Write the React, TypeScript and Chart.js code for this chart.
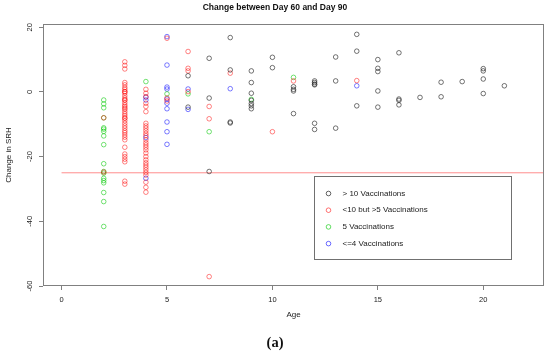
import React, { useEffect, useRef } from "react";
import { Chart, registerables } from "chart.js";

Chart.register(...registerables);

const chartTitle = "Change between Day 60 and Day 90";
const xAxisTitle = "Age";
const yAxisTitle = "Change in SRH";
const caption = "(a)";
const xTicks = [0, 5, 10, 15, 20];
const yTicks = [-60, -40, -20, 0, 20];
const xRange = [-0.88, 22.88];
const yRange = [-60, 21.0];
const thresholdValue = -25;

const seriesLabels = [
  "> 10 Vaccinations",
  "<10 but >5 Vaccinations",
  "5 Vaccinations",
  "<=4 Vaccinations",
];
const seriesColors = [
  "rgba(40,40,40,0.72)",
  "rgba(255,0,0,0.55)",
  "rgba(0,200,0,0.62)",
  "rgba(0,0,255,0.58)",
];

// [age, changes at that age]
const moreThan10: [number, number[]][] = [
  [6, [5.0, -4.7]],
  [7, [10.4, -1.9, -24.6]],
  [8, [16.8, 6.8, -9.3, -9.6]],
  [9, [6.5, 2.9, -0.4, -2.6, -3.6, -4.3, -5.2]],
  [10, [10.7, 7.5]],
  [11, [1.6, 0.8, 0.3, -6.7]],
  [12, [3.4, 2.9, 2.4, 2.2, -9.7, -11.6]],
  [13, [10.8, 3.4, -11.2]],
  [14, [17.8, 12.6, -4.3]],
  [15, [10.0, 7.3, 6.3, 0.3, -4.7]],
  [16, [12.1, -2.2, -2.6, -4.0]],
  [17, [-1.7]],
  [18, [3.0, -1.5]],
  [19, [3.2]],
  [20, [7.2, 6.5, 4.0, -0.5]],
  [21, [1.9]],
];

const between5and10: [number, number[]][] = [
  [2, [-8.0, -24.8]],
  [3, [9.3, 8.2, 7.1, 2.9, 2.2, 1.4, 0.8, 0.1, 0.1, -0.4, -1.2, -1.9, -2.5, -2.5, -3.3, -4.0, -4.5, -5.0, -5.4, -6.1, -6.8, -7.4, -8.1, -8.1, -8.9, -9.7, -10.5, -11.2, -12.0, -12.6, -13.3, -14.0, -14.8, -17.1, -19.2, -20.0, -20.8, -21.6, -27.6, -28.5]],
  [4, [0.8, -0.4, -1.5, -3.5, -4.5, -6.1, -9.7, -10.5, -11.2, -12.0, -12.8, -13.5, -14.8, -15.7, -16.4, -17.1, -17.9, -18.9, -20.0, -21.0, -21.9, -22.6, -23.3, -24.1, -24.9, -25.7, -27.9, -29.5, -31.0]],
  [5, [16.6, -1.9, -2.8]],
  [6, [12.5, 7.3, 6.5, 0.1]],
  [7, [-4.5, -8.3, -57.1]],
  [8, [5.8]],
  [10, [-12.3]],
  [11, [3.4]],
  [14, [3.5]],
];

const exactly5: [number, number[]][] = [
  [2, [-2.5, -3.7, -4.9, -8.0, -11.1, -11.5, -12.2, -13.6, -16.3, -22.2, -24.6, -25.1, -26.7, -27.4, -28.1, -31.1, -33.9, -41.6]],
  [4, [3.2]],
  [5, [-0.6]],
  [6, [-0.6]],
  [7, [-12.3]],
  [9, [-2.3]],
  [11, [4.5]],
];

const atMost4: [number, number[]][] = [
  [4, [-1.6, -2.5, -14.1, -26.7]],
  [5, [17.1, 8.3, 1.5, 0.9, -2.2, -3.5, -5.2, -9.3, -12.3, -16.2]],
  [6, [0.9, -5.4]],
  [8, [1.0]],
  [14, [1.9]],
];

const groups = [moreThan10, between5and10, exactly5, atMost4];

const toPoints = (g: [number, number[]][]) =>
  g.flatMap(([age, vals]) => vals.map((v) => ({ x: age, y: v })));

const SANS = "'Liberation Sans', Arial, sans-serif";
const AXIS_GREY = "#808080";

const boxPlugin = {
  id: "rbox",
  afterDraw(chart: any) {
    const { ctx, chartArea } = chart;
    ctx.save();
    ctx.strokeStyle = AXIS_GREY;
    ctx.lineWidth = 1;
    ctx.strokeRect(
      Math.round(chartArea.left) + 0.5,
      Math.round(chartArea.top) + 0.5,
      Math.round(chartArea.right - chartArea.left) - 1,
      Math.round(chartArea.bottom - chartArea.top) - 1
    );
    ctx.restore();
  },
};

const legendPlugin = {
  id: "rlegend",
  afterDraw(chart: any) {
    const { ctx, chartArea } = chart;
    const left = chartArea.left + 271.5;
    const top = chartArea.top + 152.5;
    const w = 197;
    const h = 83;
    ctx.save();
    ctx.strokeStyle = "#707070";
    ctx.lineWidth = 1;
    ctx.strokeRect(left, top, w, h);
    ctx.font = `8px ${SANS}`;
    ctx.textBaseline = "middle";
    ctx.textAlign = "left";
    seriesLabels.forEach((label, i) => {
      const y = top + 17 + i * 16.7;
      ctx.beginPath();
      ctx.arc(left + 14, y, 2.3, 0, Math.PI * 2);
      ctx.strokeStyle = seriesColors[i];
      ctx.lineWidth = 1;
      ctx.stroke();
      ctx.fillStyle = "#222";
      ctx.fillText(label, left + 28, y);
    });
    ctx.restore();
  },
};

export default function App() {
  const canvasRef = useRef<HTMLCanvasElement | null>(null);

  useEffect(() => {
    if (!canvasRef.current) return;
    Chart.defaults.font.family = SANS;

    const datasets: any[] = groups.map((g, i) => ({
      type: "scatter",
      label: seriesLabels[i],
      data: toPoints(g),
      borderColor: seriesColors[i],
      backgroundColor: "transparent",
      pointStyle: "circle",
      pointRadius: 2.3,
      pointBorderWidth: 0.9,
      pointHoverRadius: 2.3,
    }));
    datasets.push({
      type: "line",
      label: "threshold",
      data: [
        { x: 0, y: thresholdValue },
        { x: xRange[1], y: thresholdValue },
      ],
      borderColor: "rgba(255,0,0,0.45)",
      borderWidth: 1,
      pointRadius: 0,
      fill: false,
    });

    const chart = new Chart(canvasRef.current, {
      type: "scatter",
      data: { datasets },
      plugins: [boxPlugin, legendPlugin],
      options: {
        responsive: false,
        animation: false,
        devicePixelRatio: 1,
        layout: { padding: 0 },
        plugins: {
          legend: { display: false },
          tooltip: { enabled: false },
          title: {
            display: true,
            text: chartTitle,
            color: "#111",
            font: { family: SANS, size: 8.5, weight: "bold", lineHeight: 1.2 },
            padding: { top: 3, bottom: 10.8 },
          },
          subtitle: {
            display: true,
            text: caption,
            position: "bottom",
            color: "#111",
            font: { family: "'Liberation Serif', 'Times New Roman', serif", size: 14.5, weight: "bold", lineHeight: 1.2 },
            padding: { top: 4.6, bottom: 4 },
          },
        },
        scales: {
          x: {
            type: "linear",
            min: xRange[0],
            max: xRange[1],
            afterBuildTicks: (s: any) => {
              s.ticks = xTicks.map((v) => ({ value: v }));
            },
            afterFit: (s: any) => {
              s.height = 44;
            },
            ticks: {
              font: { family: SANS, size: 7.5 },
              color: "#222",
              padding: 5,
              maxRotation: 0,
              autoSkip: false,
            },
            grid: {
              drawOnChartArea: false,
              drawTicks: true,
              tickLength: 4,
              color: AXIS_GREY,
            },
            border: { display: false },
            title: {
              display: true,
              text: xAxisTitle,
              color: "#222",
              font: { family: SANS, size: 8, lineHeight: 1.2 },
              padding: { top: 0, bottom: 10.2 },
            },
          },
          y: {
            type: "linear",
            min: yRange[0],
            max: yRange[1],
            afterBuildTicks: (s: any) => {
              s.ticks = yTicks.map((v) => ({ value: v }));
            },
            afterFit: (s: any) => {
              s.width = 43;
            },
            ticks: {
              font: { family: SANS, size: 7.5 },
              color: "#222",
              padding: 4,
              minRotation: 90,
              maxRotation: 90,
              crossAlign: "center",
              autoSkip: false,
            },
            grid: {
              drawOnChartArea: false,
              drawTicks: true,
              tickLength: 4,
              color: AXIS_GREY,
            },
            border: { display: false },
            title: {
              display: true,
              text: yAxisTitle,
              color: "#222",
              font: { family: SANS, size: 8, lineHeight: 1.2 },
              padding: { top: 4.2, bottom: 0 },
            },
          },
          y2: {
            type: "linear",
            position: "right",
            display: true,
            afterFit: (s: any) => {
              s.width = 6;
            },
            ticks: { display: false },
            grid: { display: false },
            border: { display: false },
          },
        },
      } as any,
    });

    return () => chart.destroy();
  }, []);

  return (
    <div style={{ position: "absolute", left: 0, top: 0, width: 550, height: 356, background: "#fff" }}>
      <canvas ref={canvasRef} width={550} height={356} style={{ display: "block" }} />
    </div>
  );
}
